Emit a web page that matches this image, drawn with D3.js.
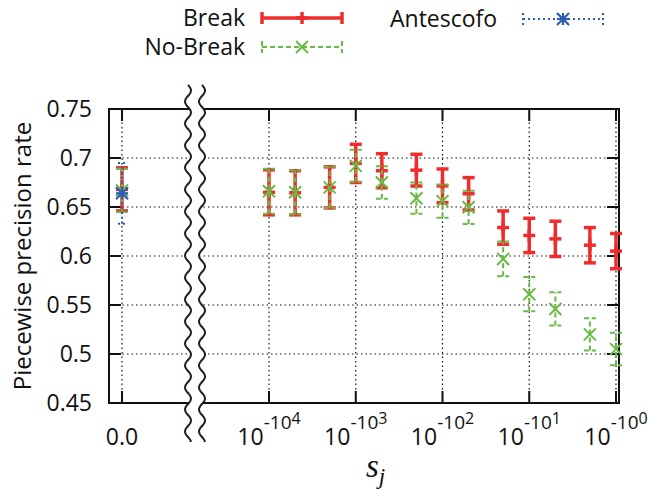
<!DOCTYPE html>
<html>
<head>
<meta charset="utf-8">
<script src="https://cdn.jsdelivr.net/npm/d3@7"></script>
<style>
body { margin: 0; background: #fff; }
text { font-family: "Open Sans", sans-serif; fill: #111; }
</style>
</head>
<body>
<svg id="chart" width="648" height="489"></svg>
<script>
// s_j = 10^(-n), n below
var nValues = [10000, 5000, 2000, 1000, 500, 200, 100, 50, 20, 10, 5, 2, 1];
var breakMean = [0.665, 0.6645, 0.670, 0.6945, 0.687, 0.6876, 0.6716, 0.6635, 0.629, 0.621, 0.6175, 0.611, 0.605];
var breakErr = [0.023, 0.0225, 0.021, 0.0195, 0.0174, 0.0162, 0.0172, 0.0165, 0.017, 0.0175, 0.018, 0.018, 0.018];
var noBreakMean = [0.666, 0.665, 0.670, 0.692, 0.675, 0.659, 0.656, 0.6497, 0.597, 0.561, 0.546, 0.520, 0.505];
var noBreakErr = [0.023, 0.0225, 0.021, 0.0165, 0.0165, 0.016, 0.017, 0.017, 0.0177, 0.0175, 0.017, 0.0165, 0.0166];
// values at s_j = 0.0 : [mean, err]
var breakZero = [0.668, 0.022];
var noBreakZero = [0.667, 0.022];
var antescofoZero = [0.664, 0.031];

var yTicks = [0.45, 0.5, 0.55, 0.6, 0.65, 0.7, 0.75];
var xTickExp = [4, 3, 2, 1, 0];

var svg = d3.select("#chart");
var L = 109, R = 619, T = 109, B = 403;

var y = d3.scaleLinear().domain([0.45, 0.75]).range([B, T]);
var xLog = d3.scaleLog().domain([1e4, 1]).range([269, 616]);
var xZero = d3.scaleLinear().domain([-1, 1]).range([L, L + 26]);

var xPositions = [xZero(0)].concat(xTickExp.map(function(k) { return xLog(Math.pow(10, k)); }));

// grid
var grid = svg.append("g")
  .attr("stroke", "#111")
  .attr("stroke-width", 1.2)
  .attr("stroke-dasharray", "1.5,3");
grid.selectAll(".hg")
  .data(yTicks.slice(1, -1))
  .enter()
  .append("line")
  .attr("x1", L).attr("x2", R)
  .attr("y1", function(d) { return y(d); })
  .attr("y2", function(d) { return y(d); });
grid.selectAll(".vg")
  .data(xPositions)
  .enter()
  .append("line")
  .attr("y1", T).attr("y2", B)
  .attr("x1", function(d) { return d; })
  .attr("x2", function(d) { return d; });

// frame + ticks
var frame = svg.append("g").attr("stroke", "#111").attr("stroke-width", 2).attr("fill", "none");
frame.append("rect").attr("x", L).attr("y", T).attr("width", R - L).attr("height", B - T);
yTicks.forEach(function(v) {
  frame.append("line").attr("x1", L).attr("x2", L + 12).attr("y1", y(v)).attr("y2", y(v));
  frame.append("line").attr("x1", R - 12).attr("x2", R).attr("y1", y(v)).attr("y2", y(v));
});
xPositions.forEach(function(p) {
  frame.append("line").attr("x1", p).attr("x2", p).attr("y1", B).attr("y2", B - 12);
  frame.append("line").attr("x1", p).attr("x2", p).attr("y1", T).attr("y2", T + 12);
});

// axis break
var wave = function(cx) {
  return d3.range(85, 443, 1).map(function(t) {
    return [cx + 3 * Math.sin(2 * Math.PI * (t - 85) / 22), t];
  });
};
var leftWave = wave(188), rightWave = wave(202);
svg.append("path")
  .attr("d", d3.line()(leftWave.concat(rightWave.slice().reverse())) + "Z")
  .attr("fill", "#fff");
[leftWave, rightWave].forEach(function(w) {
  svg.append("path")
    .attr("d", d3.line()(w))
    .attr("fill", "none")
    .attr("stroke", "#2a1d15")
    .attr("stroke-width", 2);
});

// tick labels
svg.selectAll(".ylab")
  .data(yTicks)
  .enter()
  .append("text")
  .attr("x", L - 17)
  .attr("y", function(d) { return y(d); })
  .attr("dy", "0.36em")
  .attr("text-anchor", "end")
  .style("font-size", "23px")
  .text(function(d) { return d3.format("")(d); });

svg.append("text")
  .attr("x", xZero(0)).attr("y", 445)
  .attr("text-anchor", "middle")
  .style("font-size", "23px")
  .text("0.0");

xTickExp.forEach(function(k) {
  var t = svg.append("text")
    .attr("x", xLog(Math.pow(10, k))).attr("y", 445)
    .attr("text-anchor", "middle")
    .style("font-size", "23px");
  t.append("tspan").text("10");
  t.append("tspan").attr("dy", -16).style("font-size", "19px").text("-10");
  t.append("tspan").attr("dy", -5).style("font-size", "16px").text(k);
});

// axis titles
svg.append("text")
  .attr("transform", "translate(31," + (T + B) / 2 + ") rotate(-90)")
  .attr("text-anchor", "middle")
  .style("font-size", "24px")
  .text("Piecewise precision rate");

var xt = svg.append("text")
  .attr("x", 366).attr("y", 477)
  .style("font-family", "'Liberation Serif', serif")
  .style("font-style", "italic")
  .style("font-size", "33px");
xt.append("tspan").text("s");
xt.append("tspan").attr("dy", 7).style("font-size", "23px").text("j");

// markers
function marker(g, kind, cx, cy, color, sw) {
  var s = 6;
  var segs = [];
  if (kind === "plus" || kind === "star") segs.push([-s, 0, s, 0], [0, -s, 0, s]);
  if (kind === "cross" || kind === "star") segs.push([-s, -s, s, s], [-s, s, s, -s]);
  segs.forEach(function(q) {
    g.append("line")
      .attr("x1", cx + q[0]).attr("y1", cy + q[1])
      .attr("x2", cx + q[2]).attr("y2", cy + q[3])
      .attr("stroke", color).attr("stroke-width", sw);
  });
}

function errorBars(pts, st) {
  var g = svg.append("g");
  pts.forEach(function(p) {
    var y0 = y(p.mean - p.err), y1 = y(p.mean + p.err);
    var lines = [[p.x, y0, p.x, y1], [p.x - st.cap, y0, p.x + st.cap, y0], [p.x - st.cap, y1, p.x + st.cap, y1]];
    lines.forEach(function(q) {
      g.append("line")
        .attr("x1", q[0]).attr("y1", q[1]).attr("x2", q[2]).attr("y2", q[3])
        .attr("stroke", st.color)
        .attr("stroke-width", st.width)
        .attr("stroke-dasharray", st.dash);
    });
    marker(g, st.marker, p.x, y(p.mean), st.color, st.mwidth);
  });
}

var styles = {
  brk: { color: "#ee2e2e", width: 3.5, dash: null, cap: 6, marker: "plus", mwidth: 3.5 },
  nobrk: { color: "#69b945", width: 2, dash: "5,3", cap: 6, marker: "cross", mwidth: 2 },
  ante: { color: "#2c5cb2", width: 2, dash: "2,3", cap: 4, marker: "star", mwidth: 2.2 }
};

var breakPts = [{ x: xZero(0), mean: breakZero[0], err: breakZero[1] }].concat(nValues.map(function(n, i) {
  return { x: xLog(n), mean: breakMean[i], err: breakErr[i] };
}));
var noBreakPts = [{ x: xZero(0), mean: noBreakZero[0], err: noBreakZero[1] }].concat(nValues.map(function(n, i) {
  return { x: xLog(n), mean: noBreakMean[i], err: noBreakErr[i] };
}));
var antePts = [{ x: xZero(0), mean: antescofoZero[0], err: antescofoZero[1] }];

errorBars(breakPts, styles.brk);
errorBars(noBreakPts, styles.nobrk);
errorBars(antePts, styles.ante);

// legend
function legendItem(label, st, tx, anchor, lx, ly) {
  svg.append("text")
    .attr("x", tx).attr("y", ly).attr("dy", "0.36em")
    .attr("text-anchor", anchor)
    .style("font-size", "23px")
    .text(label);
  var g = svg.append("g");
  var lines = [[lx, ly, lx + 80, ly], [lx, ly - 6, lx, ly + 6], [lx + 80, ly - 6, lx + 80, ly + 6]];
  lines.forEach(function(q) {
    g.append("line")
      .attr("x1", q[0]).attr("y1", q[1]).attr("x2", q[2]).attr("y2", q[3])
      .attr("stroke", st.color)
      .attr("stroke-width", st.width)
      .attr("stroke-dasharray", st.dash);
  });
  marker(g, st.marker, lx + 40, ly, st.color, st.mwidth);
}
legendItem("Break", styles.brk, 245, "end", 262, 18);
legendItem("No-Break", styles.nobrk, 245, "end", 262, 47);
legendItem("Antescofo", styles.ante, 390, "start", 523, 19);
</script>
</body>
</html>
